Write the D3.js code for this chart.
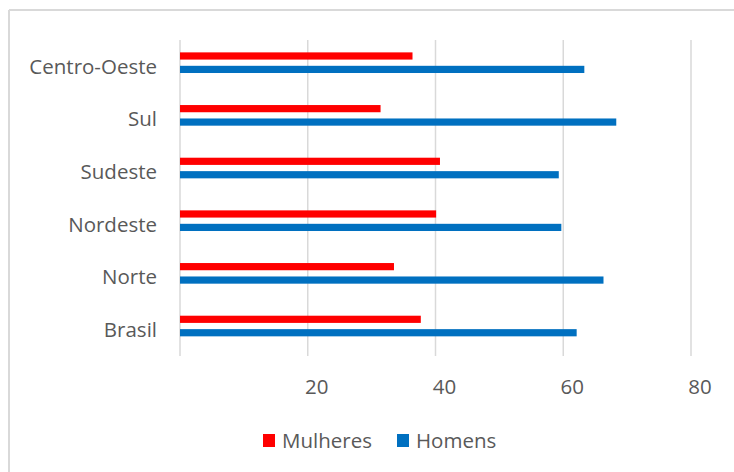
<!DOCTYPE html>
<html>
<head>
    <title>Mulheres e Homens por região</title>
    <style>
        body { margin: 0; background: #fff; }
        .grid line { stroke: #d9d9d9; stroke-width: 1.5px; }
        .label { font-family: "Open Sans", sans-serif; font-size: 20.5px; fill: #595959; }
        .frame { stroke: #d9d9d9; stroke-width: 2px; }
    </style>
    <script src="https://d3js.org/d3.v7.min.js"></script>
</head>
<body>
    <svg width="734" height="472"></svg>
    <script>
        const regions = ["Centro-Oeste", "Sul", "Sudeste", "Nordeste", "Norte", "Brasil"];
        const mulheres = [36.4, 31.4, 40.7, 40.1, 33.5, 37.7];
        const homens = [63.3, 68.3, 59.3, 59.7, 66.3, 62.1];
        const ticks = [20, 40, 60, 80];
        const seriesNames = ["Mulheres", "Homens"];
        const colors = ["#ff0000", "#0070c0"];

        const svg = d3.select("svg");

        // frame (top and left edges only are visible)
        svg.append("line").attr("class", "frame")
            .attr("x1", 9).attr("y1", 10).attr("x2", 734).attr("y2", 10);
        svg.append("line").attr("class", "frame")
            .attr("x1", 9).attr("y1", 10).attr("x2", 9).attr("y2", 472);

        const x = d3.scaleLinear().domain([0, 80]).range([180, 691]);
        const y = d3.scaleBand().domain(regions).range([40, 356]);
        const bw = y.bandwidth();

        // Draw gridlines
        svg.append("g").attr("class", "grid")
            .selectAll("line")
            .data([0].concat(ticks))
            .enter()
            .append("line")
            .attr("x1", d => x(d)).attr("x2", d => x(d))
            .attr("y1", 40).attr("y2", 356);

        // Draw bars
        const offsets = [0.235, 0.49];
        [mulheres, homens].forEach((vals, s) => {
            svg.selectAll(".bar" + s)
                .data(regions)
                .enter()
                .append("rect")
                .attr("class", "bar" + s)
                .attr("x", x(0))
                .attr("y", d => y(d) + bw * offsets[s])
                .attr("width", (d, i) => x(vals[i]) - x(0))
                .attr("height", 7.2)
                .attr("fill", colors[s]);
        });

        // Category labels
        svg.selectAll(".cat")
            .data(regions)
            .enter()
            .append("text")
            .attr("class", "label")
            .attr("x", 157)
            .attr("y", d => y(d) + bw / 2)
            .attr("dy", "0.35em")
            .attr("text-anchor", "end")
            .text(d => d);

        // Tick labels
        svg.selectAll(".tick")
            .data(ticks)
            .enter()
            .append("text")
            .attr("class", "label")
            .attr("x", d => x(d) + 9)
            .attr("y", 387)
            .attr("dy", "0.35em")
            .attr("text-anchor", "middle")
            .text(d => d);

        // Legend
        const legendX = [263, 397];
        const legend = svg.selectAll(".legend")
            .data(seriesNames)
            .enter()
            .append("g")
            .attr("transform", (d, i) => `translate(${legendX[i]},434)`);
        legend.append("rect")
            .attr("width", 12).attr("height", 13)
            .attr("fill", (d, i) => colors[i]);
        legend.append("text")
            .attr("class", "label")
            .attr("x", 19)
            .attr("y", 6.5)
            .attr("dy", "0.35em")
            .text(d => d);
    </script>
</body>
</html>
